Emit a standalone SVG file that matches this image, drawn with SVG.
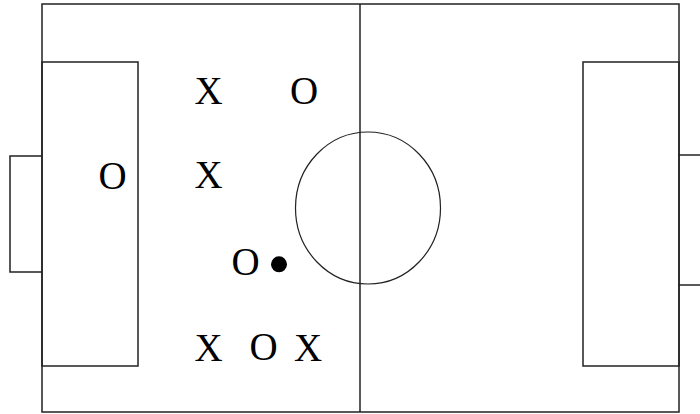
<svg xmlns="http://www.w3.org/2000/svg" width="700" height="414" viewBox="0 0 700 414">
<style>
.ln{fill:none;stroke:#222;stroke-width:1.5}
.c{fill:none;stroke:#222;stroke-width:1.2}
.t{font-family:"Liberation Serif","Times New Roman",serif;font-size:39px;fill:#000;text-anchor:middle}
</style>
<rect width="700" height="414" fill="#fff"/>
<g id="field">
<rect class="ln" x="42" y="4" width="637" height="408"/>
<line class="ln" x1="360" y1="4" x2="360" y2="412"/>
<ellipse class="c" cx="368" cy="208" rx="72.5" ry="76"/>
<rect class="ln" x="42" y="62" width="96" height="304"/>
<rect class="ln" x="583" y="62" width="96" height="304"/>
<polyline class="ln" points="42,156 10,156 10,272 42,272"/>
<polyline class="ln" points="679,155 702,155"/>
<polyline class="ln" points="679,285 702,285"/>
</g>
<g id="players">
<text class="t" x="208.5" y="104">X</text>
<text class="t" x="304" y="104">O</text>
<text class="t" x="112.5" y="188.5">O</text>
<text class="t" x="208.5" y="188">X</text>
<text class="t" x="245.5" y="274.5">O</text>
<text class="t" x="208.7" y="360.7">X</text>
<text class="t" x="263.7" y="360.3">O</text>
<text class="t" x="308" y="360.7">X</text>
</g>
<circle id="ball" cx="279" cy="264.3" r="8" fill="#000"/>
</svg>
